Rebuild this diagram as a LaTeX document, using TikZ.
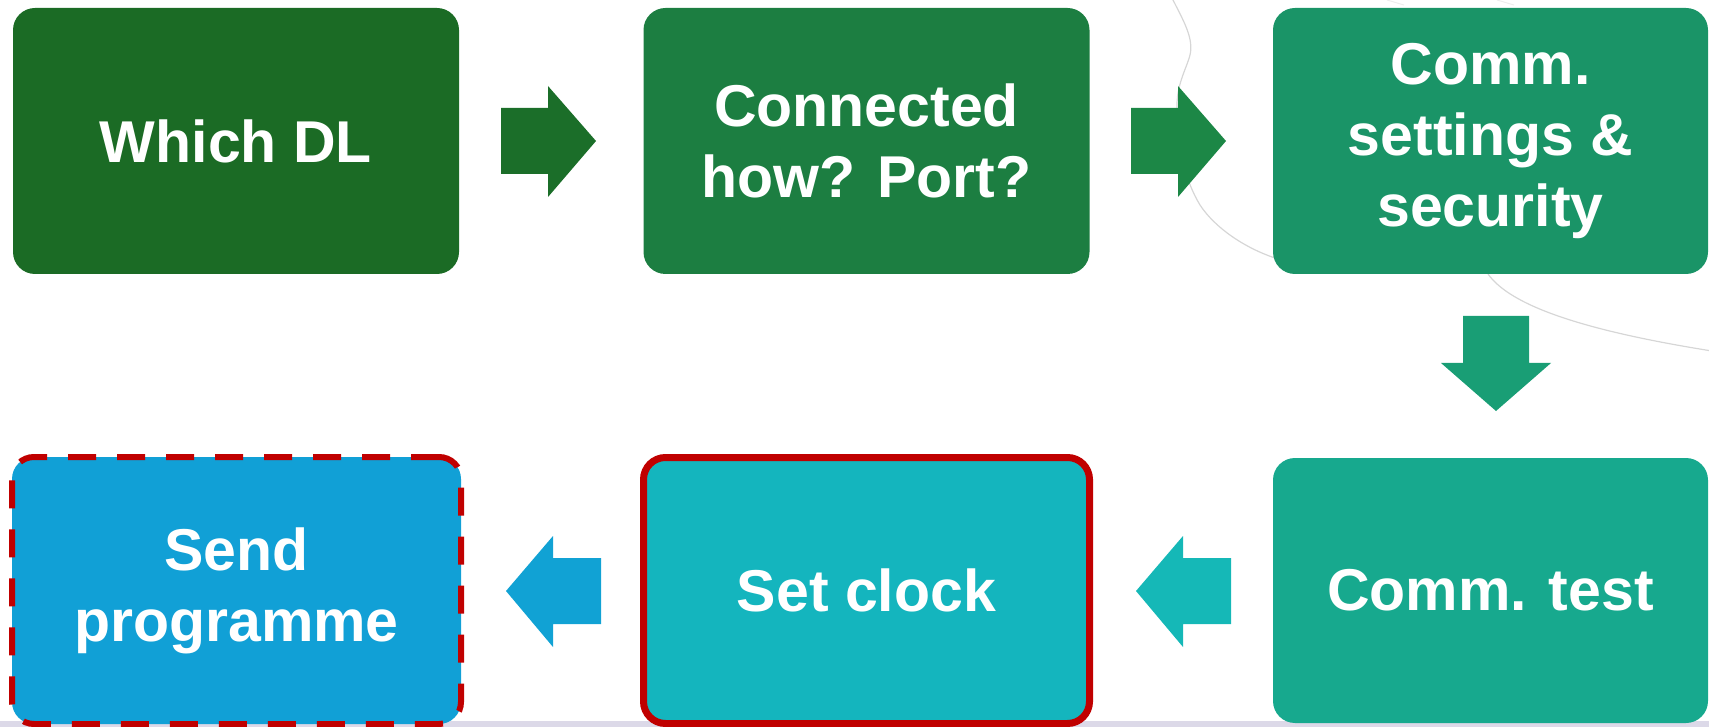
\documentclass[tikz,border=0pt]{standalone}
\usepackage{fontspec}
\setmainfont{Liberation Sans}

% step colours, dark green to blue
\definecolor{stepA}{HTML}{1B6B25}
\definecolor{arrA}{HTML}{1B6E29}
\definecolor{stepB}{HTML}{1C7E41}
\definecolor{arrB}{HTML}{1C8746}
\definecolor{stepC}{HTML}{1A9467}
\definecolor{arrC}{HTML}{199E75}
\definecolor{stepD}{HTML}{17A98E}
\definecolor{arrD}{HTML}{15B8B7}
\definecolor{stepE}{HTML}{14B5BE}
\definecolor{arrE}{HTML}{11A2D4}
\definecolor{stepF}{HTML}{11A0D6}
\definecolor{markred}{HTML}{C00000}
\definecolor{baseband}{HTML}{DCD9E8}
\definecolor{faintline}{HTML}{D6D6D6}
\definecolor{fainterline}{HTML}{EDEDED}

\begin{document}
\begin{tikzpicture}[x=1pt,y=-1pt,
  stepbox/.style={rectangle, rounded corners=22pt, draw=none,
    minimum width=446pt, minimum height=266pt, inner sep=0pt,
    align=center, text=white,
    font=\bfseries\fontsize{59}{71}\selectfont},
  faint/.style={draw=faintline, line width=1.2pt}]

\useasboundingbox (0,0) rectangle (1709,727);

% light band along the bottom edge
\fill[baseband] (0,721) rectangle (1709,727);

% faint background outlines
\draw[faint] (1172,-2) .. controls (1183,20) and (1194,38) .. (1190,55)
             .. controls (1186,70) and (1176,85) .. (1177,110)
             .. controls (1178,150) and (1185,180) .. (1200,205)
             .. controls (1215,228) and (1245,248) .. (1275,258);
\draw[faint] (1488,274) .. controls (1510,305) and (1580,330) .. (1712,351);
\draw[draw=fainterline, line width=1pt] (1387,0) to[out=-15,in=165] (1404,5);
\draw[draw=fainterline, line width=1pt] (1497,0) to[out=-15,in=165] (1514,5);

% top row
\node[stepbox, fill=stepA] (dl)   at (236,141)    {Which DL};
\node[stepbox, fill=stepB] (conn) at (866.5,141)  {Connected\\how? Port?};
\node[stepbox, fill=stepC, minimum width=435pt] (comm) at (1490.5,141) {Comm.\\settings \&\\security};

% bottom row
\node[stepbox, fill=stepD, minimum width=435pt, minimum height=265pt] (test) at (1490.5,590.5) {Comm. test};
\node[stepbox, fill=stepE, draw=markred, line width=7pt] (clock) at (866.5,590.5) {Set clock};
\node[stepbox, fill=stepF, draw=markred, line width=6pt,
      dash pattern=on 28pt off 21pt, minimum width=449pt, minimum height=267pt] (send) at (236.5,590.5) {Send\\programme};

% block arrows between the steps
\fill[arrA] (501,108) -- (548,108) -- (548,86) -- (596,141) -- (548,197) -- (548,174) -- (501,174) -- cycle;
\fill[arrB] (1131,108) -- (1178,108) -- (1178,86) -- (1226,141) -- (1178,197) -- (1178,174) -- (1131,174) -- cycle;
\fill[arrC] (1463,316) -- (1529,316) -- (1529,363) -- (1551,363) -- (1496,411) -- (1441,363) -- (1463,363) -- cycle;
\fill[arrD] (1231,558) -- (1183,558) -- (1183,536) -- (1136,591) -- (1183,647) -- (1183,624) -- (1231,624) -- cycle;
\fill[arrE] (601,558) -- (553,558) -- (553,536) -- (506,591) -- (553,647) -- (553,624) -- (601,624) -- cycle;

\end{tikzpicture}
\end{document}
